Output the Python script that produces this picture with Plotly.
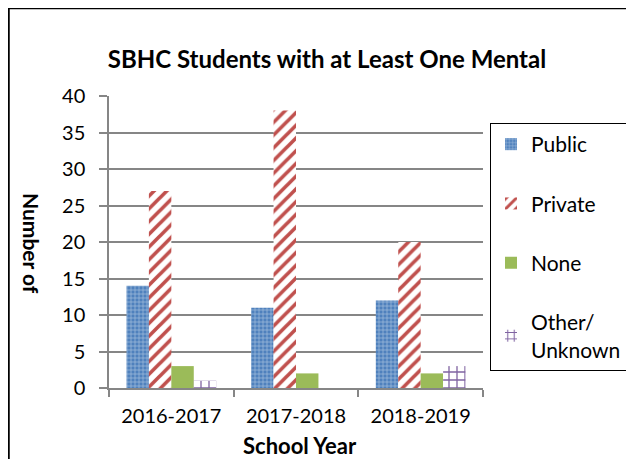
import plotly.graph_objects as go

years = ["2016-2017", "2017-2018", "2018-2019"]
public = [14, 11, 12]
private = [27, 38, 20]
none_vals = [3, 2, 2]
other = [1, 0, 3]
y_ticks = [0, 5, 10, 15, 20, 25, 30, 35, 40]

FONT = "Lato, Open Sans, sans-serif"

OFF = 8  # page body margin
W, H = 634 - OFF, 459 - OFF
L, R, T, B = 109 - OFF, 483 - OFF, 96 - OFF, 388 - OFF

def px_x(x):
    return (x - OFF - L) / (R - L)

def px_y(y):
    return (B - (y - OFF)) / (B - T)

fig = go.Figure()
fig.add_trace(go.Bar(
    x=years, y=public, name="Public", legendgroup="a",
    marker=dict(color="#4F81BD", line=dict(width=0),
                pattern=dict(shape="+", fgcolor="white", bgcolor="#4F81BD",
                             size=4, solidity=0.3, fillmode="overlay")),
))
fig.add_trace(go.Bar(
    x=years, y=private, name="Private", legendgroup="b",
    marker=dict(color="white", line=dict(width=0),
                pattern=dict(shape="/", fgcolor="#C0504D", bgcolor="white",
                             size=9, solidity=0.4, fillmode="replace")),
))
fig.add_trace(go.Bar(
    x=years, y=none_vals, name="None", legendgroup="c",
    marker=dict(color="#9BBB59", line=dict(width=0)),
))
fig.add_trace(go.Bar(
    x=years, y=other, name="Other/<br>Unknown", legendgroup="d",
    marker=dict(color="white", line=dict(width=0),
                pattern=dict(shape="+", fgcolor="#8064A2", bgcolor="white",
                             size=8, solidity=0.3, fillmode="replace")),
))

fig.update_layout(
    width=W, height=H,
    margin=dict(l=L, r=W - R, t=T, b=H - B, autoexpand=False),
    paper_bgcolor="white", plot_bgcolor="white",
    barmode="group", bargap=0.28, bargroupgap=0,
    font=dict(family=FONT, size=20, color="black"),
    title=dict(text="<b>SBHC Students with at Least One Mental</b>",
               x=(327 - OFF) / W, xref="container", xanchor="center",
               y=1 - (60 - OFF) / H, yref="container", yanchor="middle",
               font=dict(size=24, family=FONT, color="black")),
    xaxis=dict(showline=True, linecolor="#868686", linewidth=1.5,
               ticks="outside", tickson="boundaries", ticklen=7,
               tickcolor="#868686", tickwidth=1.5, ticklabelstandoff=9,
               tickfont=dict(size=20), showgrid=False),
    yaxis=dict(range=[0, 40], tickvals=y_ticks, showline=True,
               linecolor="#868686", linewidth=1.5,
               ticks="outside", ticklen=8, tickcolor="#868686", tickwidth=1.5,
               ticklabelstandoff=10,
               showgrid=True, gridcolor="#868686", gridwidth=1.5,
               zeroline=False, tickfont=dict(size=20)),
    legend=dict(x=px_x(490), y=px_y(123), xanchor="left", yanchor="top",
                bordercolor="black", borderwidth=1, bgcolor="white",
                font=dict(size=21), tracegroupgap=29,
                itemwidth=30),
    annotations=[
        dict(text="<b>Number of</b>", textangle=90, x=px_x(32), y=px_y(243),
             xref="paper", yref="paper", xanchor="center", yanchor="middle",
             showarrow=False, font=dict(size=21, family=FONT)),
        dict(text="<b>School Year</b>", x=px_x(300), y=px_y(445),
             xref="paper", yref="paper", xanchor="center", yanchor="middle",
             showarrow=False, font=dict(size=22, family=FONT)),
    ],
    shapes=[
        dict(type="line", xref="paper", yref="paper",
             x0=px_x(8.5), x1=px_x(8.5), y0=px_y(6), y1=px_y(470),
             line=dict(color="black", width=2.5)),
        dict(type="line", xref="paper", yref="paper",
             x0=px_x(7), x1=px_x(640), y0=px_y(8), y1=px_y(8),
             line=dict(color="black", width=2.5)),
    ],
)

fig.write_html("out.html")
